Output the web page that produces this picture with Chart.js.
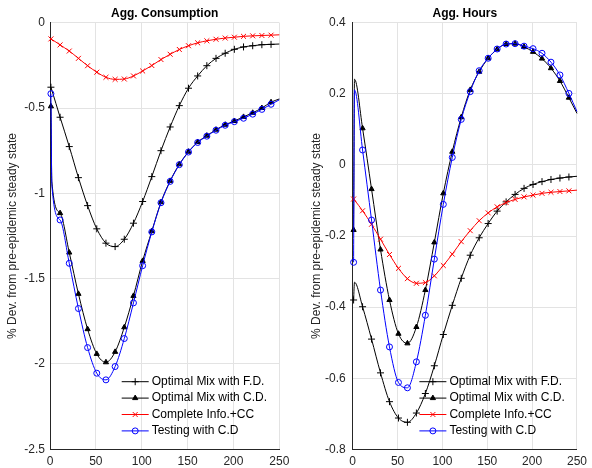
<!DOCTYPE html>
<html>
<head>
<meta charset="utf-8">
<script src="https://cdn.jsdelivr.net/npm/chart.js@4/dist/chart.umd.min.js"></script>
<style>
  body { margin: 0; background: #fff; }
  .panel { position: absolute; top: 0; width: 296px; height: 468px; }
</style>
</head>
<body>
<div class="panel" style="left:0"><canvas id="cons" width="296" height="468"></canvas></div>
<div class="panel" style="left:296px"><canvas id="hours" width="296" height="468"></canvas></div>
<script>
// periods (markers every 10 periods, starting at 1)
const periods = [1, 2, 11, 21, 31, 41, 51, 61, 71, 81, 91, 101, 111, 121, 131, 141, 151, 161, 171, 181, 191, 201, 211, 221, 231, 241, 250];

const seriesNames = ['Optimal Mix with F.D.', 'Optimal Mix with C.D.', 'Complete Info.+CC', 'Testing with C.D'];

// Agg. Consumption
const fdCons   = [-0.378, -0.395, -0.554, -0.726, -0.908, -1.072, -1.208, -1.292, -1.312, -1.269, -1.175, -1.048, -0.902, -0.75, -0.611, -0.486, -0.384, -0.312, -0.252, -0.209, -0.179, -0.156, -0.142, -0.135, -0.129, -0.127, -0.125];
const cdCons   = [-0.49, -0.93, -1.116, -1.347, -1.589, -1.796, -1.941, -1.99, -1.929, -1.785, -1.601, -1.396, -1.222, -1.052, -0.927, -0.83, -0.756, -0.70, -0.662, -0.627, -0.598, -0.576, -0.552, -0.528, -0.5, -0.466, -0.447];
const ccCons   = [-0.095, -0.098, -0.13, -0.166, -0.209, -0.252, -0.29, -0.32, -0.332, -0.33, -0.312, -0.283, -0.251, -0.216, -0.185, -0.157, -0.135, -0.118, -0.106, -0.097, -0.09, -0.085, -0.08, -0.077, -0.075, -0.073, -0.071];
const testCons = [-0.416, -0.95, -1.156, -1.41, -1.675, -1.904, -2.054, -2.093, -2.015, -1.851, -1.642, -1.424, -1.226, -1.055, -0.93, -0.832, -0.758, -0.702, -0.665, -0.63, -0.601, -0.58, -0.56, -0.536, -0.508, -0.478, -0.452];

// Agg. Hours
const fdHours   = [-0.38, -0.33, -0.399, -0.49, -0.585, -0.666, -0.712, -0.724, -0.698, -0.643, -0.565, -0.477, -0.395, -0.319, -0.254, -0.205, -0.165, -0.13, -0.104, -0.083, -0.066, -0.055, -0.047, -0.041, -0.037, -0.034, -0.032];
const cdHours   = [-0.183, 0.241, 0.103, -0.068, -0.238, -0.38, -0.475, -0.502, -0.456, -0.352, -0.218, -0.08, 0.037, 0.134, 0.211, 0.262, 0.30, 0.325, 0.34, 0.341, 0.332, 0.318, 0.299, 0.272, 0.236, 0.189, 0.145];
const ccHours   = [-0.096, -0.099, -0.129, -0.167, -0.209, -0.252, -0.291, -0.32, -0.333, -0.331, -0.312, -0.283, -0.251, -0.216, -0.185, -0.157, -0.135, -0.118, -0.106, -0.097, -0.09, -0.085, -0.08, -0.077, -0.075, -0.073, -0.071];
const testHours = [-0.274, 0.211, 0.042, -0.155, -0.352, -0.512, -0.612, -0.627, -0.554, -0.423, -0.265, -0.111, 0.021, 0.128, 0.206, 0.265, 0.30, 0.326, 0.34, 0.341, 0.334, 0.327, 0.314, 0.289, 0.253, 0.201, 0.15];

const FONT = 'Helvetica, Arial, "Liberation Sans", sans-serif';
const AXIS = '#262626';
const GRID = '#e3e3e3';

function isMarker(i) { return periods[i] % 10 === 1; }

// matlab style tick text: 0, -0.5, -1 (no trailing zeros)
function tickText(v) { return String(Math.round(v * 100) / 100); }

function series(label, values, color, style, size, order) {
  return {
    label,
    data: values.map((v, i) => ({ x: periods[i], y: v })),
    order,
    clip: false,
    borderColor: color,
    borderWidth: 1,
    pointStyle: style,
    markerSize: size,
    pointBorderColor: color,
    pointBackgroundColor: style === 'circle' ? 'rgba(0,0,0,0)' : color,
    pointBorderWidth: 1,
    pointRadius: ctx => (isMarker(ctx.dataIndex) ? size : 0),
    pointHoverRadius: 0,
    cubicInterpolationMode: 'monotone',
    fill: false
  };
}

function drawMarker(ctx, style, x, y, color, r) {
  ctx.strokeStyle = color;
  ctx.fillStyle = color;
  ctx.lineWidth = 1;
  ctx.beginPath();
  if (style === 'cross') {
    ctx.moveTo(x - r, y); ctx.lineTo(x + r, y);
    ctx.moveTo(x, y - r); ctx.lineTo(x, y + r);
    ctx.stroke();
  } else if (style === 'crossRot') {
    const d = r * 0.707;
    ctx.moveTo(x - d, y - d); ctx.lineTo(x + d, y + d);
    ctx.moveTo(x - d, y + d); ctx.lineTo(x + d, y - d);
    ctx.stroke();
  } else if (style === 'triangle') {
    ctx.moveTo(x, y - r);
    ctx.lineTo(x + r * 0.866, y + r * 0.5);
    ctx.lineTo(x - r * 0.866, y + r * 0.5);
    ctx.closePath();
    ctx.fill(); ctx.stroke();
  } else {
    ctx.arc(x, y, r, 0, Math.PI * 2);
    ctx.stroke();
  }
}

// legend drawn inside the plot, lower right, no box
const legendInside = {
  id: 'legendInside',
  afterDatasetsDraw(chart) {
    const ctx = chart.ctx;
    const area = chart.chartArea;
    const x0 = area.right - 157.6;
    ctx.save();
    ctx.font = '12px ' + FONT;
    ctx.textBaseline = 'middle';
    chart.data.datasets.forEach((ds, i) => {
      const y = area.bottom - 67.6 + i * 16.4;
      ctx.strokeStyle = ds.borderColor;
      ctx.lineWidth = 1;
      ctx.beginPath();
      ctx.moveTo(x0, y);
      ctx.lineTo(x0 + 27, y);
      ctx.stroke();
      drawMarker(ctx, ds.pointStyle, x0 + 13.5, y, ds.borderColor, ds.markerSize);
      ctx.fillStyle = '#000';
      ctx.fillText(ds.label, x0 + 30, y);
    });
    ctx.restore();
  }
};

function makeChart(id, title, data, yMin, yMax, yStep, yWidth, titlePad, tickPad, rightPad) {
  return new Chart(document.getElementById(id), {
    type: 'line',
    data: {
      datasets: [
        series(seriesNames[0], data[0], '#000000', 'cross', 3.5, 4),
        series(seriesNames[1], data[1], '#000000', 'triangle', 3, 3),
        series(seriesNames[2], data[2], '#ff0000', 'crossRot', 3.5, 2),
        series(seriesNames[3], data[3], '#0000ff', 'circle', 3, 1)
      ]
    },
    options: {
      responsive: false,
      animation: false,
      devicePixelRatio: 1,
      layout: { padding: { left: 0, right: rightPad, top: 0, bottom: 0 } },
      plugins: {
        legend: { display: false },
        tooltip: { enabled: false },
        title: {
          display: true,
          text: title,
          fullSize: false,
          color: '#000',
          font: { family: FONT, size: 12, weight: 'bold' },
          padding: { top: 6, bottom: 2.3 }
        }
      },
      scales: {
        x: {
          type: 'linear',
          min: 0,
          max: 250,
          ticks: { stepSize: 50, color: AXIS, padding: 5, maxRotation: 0, font: { family: FONT, size: 12 }, callback: tickText },
          grid: { color: GRID, drawTicks: false },
          border: { color: AXIS, width: 1 },
          afterFit(s) { s.height = 18.7; }
        },
        y: {
          min: yMin,
          max: yMax,
          ticks: { stepSize: yStep, color: AXIS, padding: tickPad, font: { family: FONT, size: 12 }, callback: tickText },
          grid: { color: GRID, drawTicks: false },
          border: { color: AXIS, width: 1 },
          title: {
            display: true,
            text: '% Dev. from pre-epidemic steady state',
            color: AXIS,
            font: { family: FONT, size: 12 },
            padding: { top: titlePad, bottom: 0 }
          },
          afterFit(s) { s.width = yWidth; }
        }
      }
    },
    plugins: [legendInside]
  });
}

makeChart('cons', 'Agg. Consumption', [fdCons, cdCons, ccCons, testCons], -2.5, 0, 0.5, 50, 5.5, 5, 16.7);
makeChart('hours', 'Agg. Hours', [fdHours, cdHours, ccHours, testHours], -0.8, 0.4, 0.2, 56.7, 13.8, 7, 10.7);
</script>
</body>
</html>
